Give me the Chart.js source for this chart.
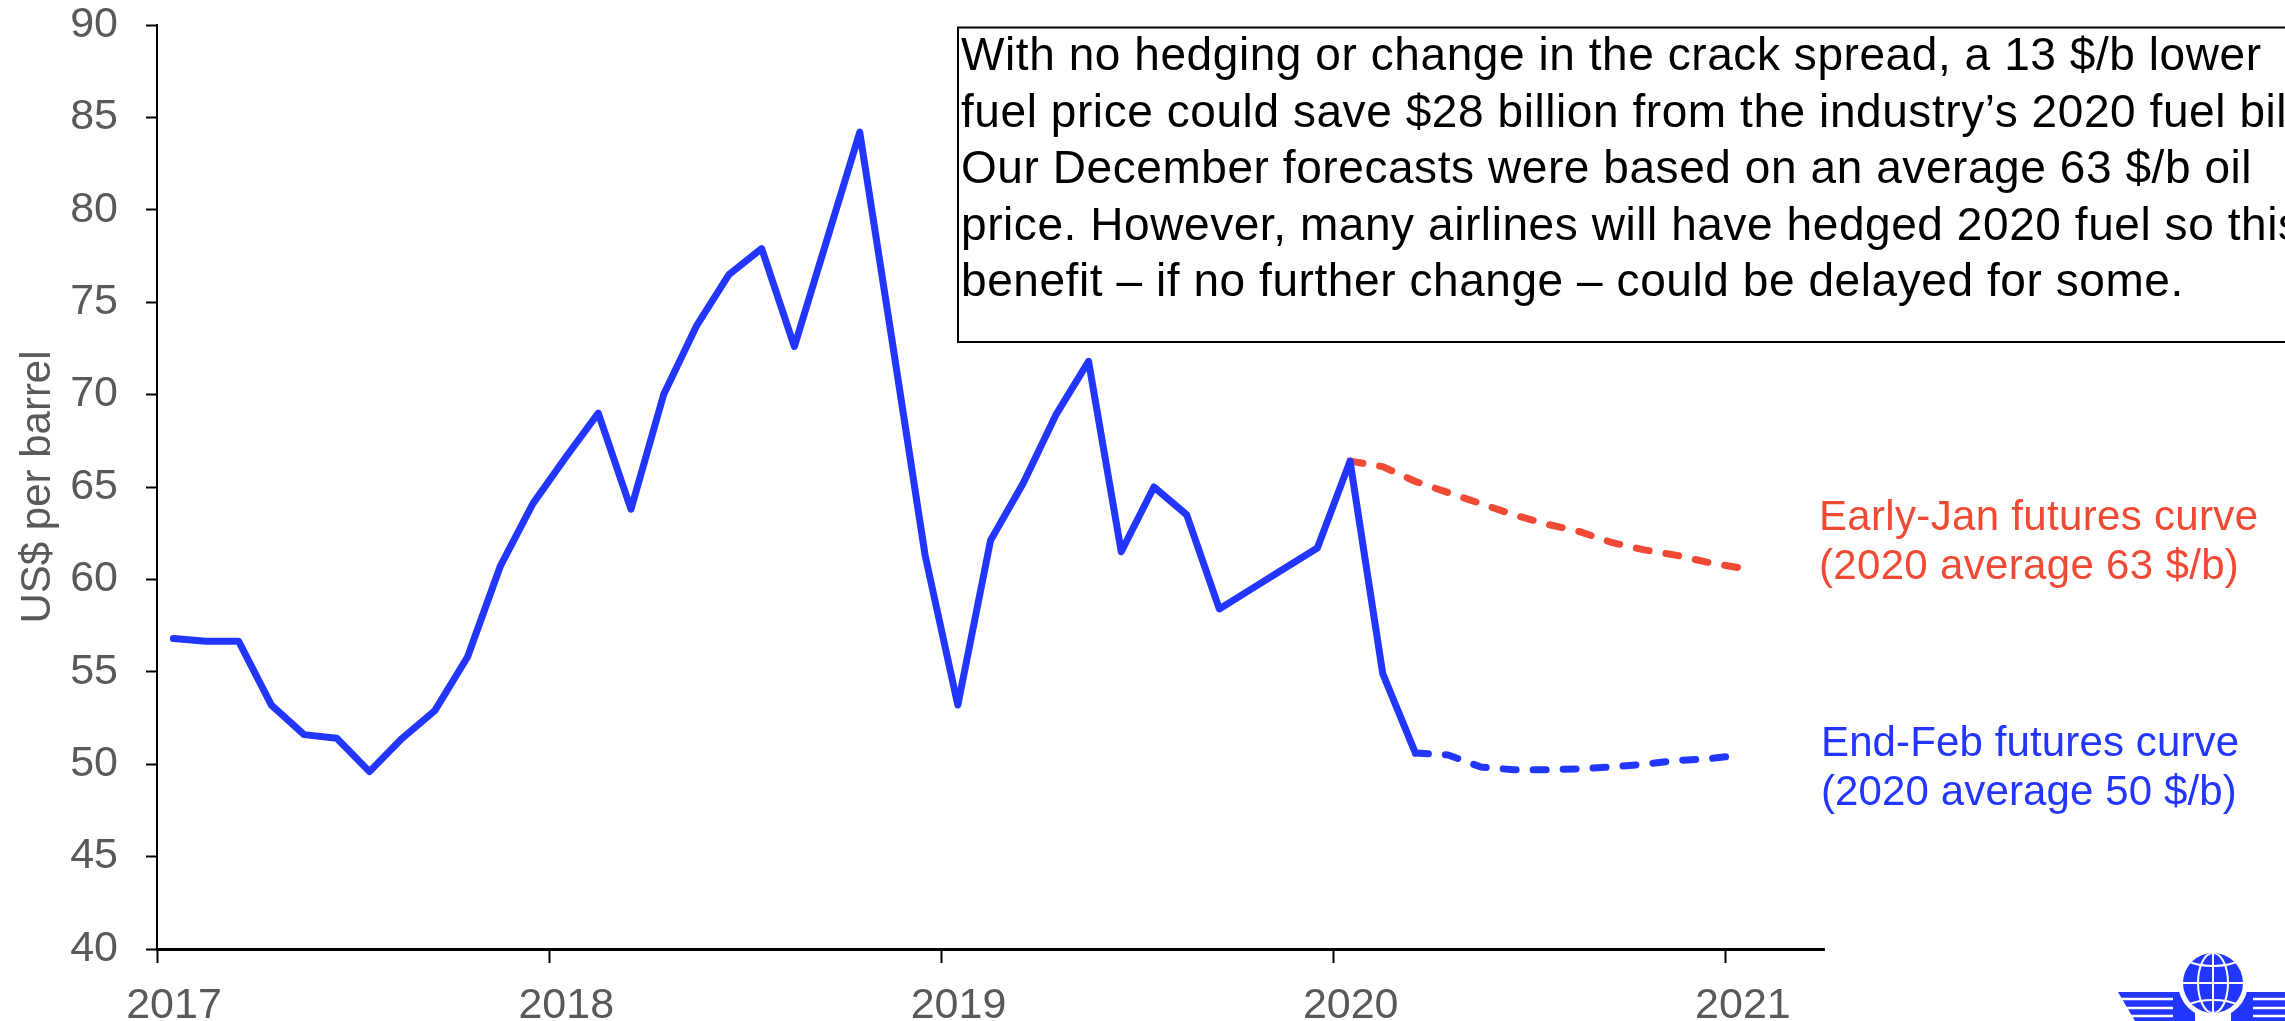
<!DOCTYPE html>
<html>
<head>
<meta charset="utf-8">
<script src="https://cdn.jsdelivr.net/npm/chart.js@4.4.0/dist/chart.umd.min.js"></script>
<style>
  html, body { margin: 0; background: #fff; }
  #wrap { width: 2285px; height: 1021px; position: relative; }
</style>
</head>
<body>
<div id="wrap"><canvas id="chart"></canvas></div>
<script>
// monthly averages, US$ per barrel
const histStart = '2017-01';
const histPrice = [
  56.8, 56.65, 56.65, 53.2, 51.6, 51.4, 49.6, 51.4, 52.9, 55.8, 60.7, 64.1,
  66.6, 69.0, 63.8, 70.0, 73.7, 76.5, 77.9, 72.6, 78.4, 84.2, 72.8, 61.3,
  53.2, 62.1, 65.2, 68.9, 71.8, 61.5, 65.0, 63.5, 58.4, 59.5, 60.6, 61.7,
  66.4, 54.9, 50.6
];
const janStart = '2020-01';
const janCurve = [66.4, 66.1, 65.3, 64.7, 64.1, 63.5, 63.0, 62.6, 62.0, 61.6, 61.3, 60.9, 60.6];
const febStart = '2020-03';
const febCurve = [50.6, 50.5, 49.85, 49.7, 49.7, 49.75, 49.85, 50.0, 50.2, 50.3, 50.5];

const yearTicks = [2017, 2018, 2019, 2020, 2021];
const janLabel = ['Early-Jan futures curve', '(2020 average 63 $/b)'];
const febLabel = ['End-Feb futures curve', '(2020 average 50 $/b)'];
const noteLines = [
  'With no hedging or change in the crack spread, a 13 $/b lower',
  'fuel price could save $28 billion from the industry’s 2020 fuel bill.',
  'Our December forecasts were based on an average 63 $/b oil',
  'price. However, many airlines will have hedged 2020 fuel so this',
  'benefit – if no further change – could be delayed for some.'
];

const BLUE = '#2236FF';
const RED = '#F04A35';
const GREY = '#595959';
const FONT = '"Liberation Sans", Arial, sans-serif';

// month string + values -> points at mid-month on a year axis
function toPoints(start, vals) {
  const [y, m] = start.split('-').map(Number);
  return vals.map((v, i) => ({ x: y + (m - 1 + i + 0.5) / 12, y: v }));
}

function fitText(ctx, text, width) {
  ctx.letterSpacing = '0px';
  const w = ctx.measureText(text).width;
  ctx.letterSpacing = ((width - w) / (text.length - 1)) + 'px';
}

function drawLogo(ctx) {
  const cx = 2213, cy = 983, r = 30;
  ctx.save();
  ctx.fillStyle = BLUE;
  for (const s of [-1, 1]) {
    ctx.beginPath();
    ctx.moveTo(cx + s * 95, 992);
    ctx.lineTo(cx + s * 18, 992);
    ctx.lineTo(cx + s * 18, 1021);
    ctx.lineTo(cx + s * 78, 1021);
    ctx.closePath();
    ctx.fill();
  }
  ctx.strokeStyle = '#fff';
  ctx.lineWidth = 2.5;
  for (const s of [-1, 1]) {
    for (const y of [999, 1008, 1016]) {
      ctx.beginPath();
      ctx.moveTo(cx + s * 92, y);
      ctx.lineTo(cx + s * 40, y);
      ctx.stroke();
    }
  }
  ctx.fillStyle = '#fff';
  ctx.beginPath(); ctx.arc(cx, cy, r + 5, 0, Math.PI * 2); ctx.fill();
  ctx.fillStyle = BLUE;
  ctx.beginPath(); ctx.arc(cx, cy, r, 0, Math.PI * 2); ctx.fill();
  ctx.save();
  ctx.clip();
  ctx.lineWidth = 2;
  ctx.beginPath();
  ctx.moveTo(cx, cy - r); ctx.lineTo(cx, cy + r);
  ctx.moveTo(cx - r, cy); ctx.lineTo(cx + r, cy);
  ctx.stroke();
  ctx.beginPath(); ctx.ellipse(cx, cy, 15, r, 0, 0, Math.PI * 2); ctx.stroke();
  ctx.beginPath(); ctx.ellipse(cx, cy - 35, 37, 18, 0, 0, Math.PI * 2); ctx.stroke();
  ctx.beginPath(); ctx.ellipse(cx, cy + 35, 37, 18, 0, 0, Math.PI * 2); ctx.stroke();
  ctx.restore();
  ctx.restore();
}

const extras = {
  id: 'extras',
  beforeDraw(chart) {
    const ctx = chart.ctx;
    ctx.save();
    ctx.fillStyle = '#fff';
    ctx.fillRect(0, 0, chart.width, chart.height);
    ctx.restore();
  },
  afterDraw(chart) {
    const ctx = chart.ctx;
    ctx.save();
    // note box
    ctx.fillStyle = '#fff';
    ctx.fillRect(958, 27.5, 1400, 314.5);
    ctx.strokeStyle = '#000';
    ctx.lineWidth = 2;
    ctx.strokeRect(958, 27.5, 1400, 314.5);
    ctx.fillStyle = '#000';
    ctx.font = '46px ' + FONT;
    ctx.textBaseline = 'alphabetic';
    fitText(ctx, noteLines[0], 1300);
    noteLines.forEach((t, i) => ctx.fillText(t, 961, 70 + i * 56.6));

    // series labels
    ctx.font = '42px ' + FONT;
    ctx.fillStyle = RED;
    fitText(ctx, janLabel[0], 439);
    ctx.fillText(janLabel[0], 1819, 530);
    ctx.fillText(janLabel[1], 1819, 579);
    ctx.fillStyle = BLUE;
    fitText(ctx, febLabel[0], 418);
    ctx.fillText(febLabel[0], 1821, 756);
    ctx.fillText(febLabel[1], 1821, 805);
    ctx.letterSpacing = '0px';
    ctx.restore();

    drawLogo(ctx);
  }
};

const tickFont = { family: FONT, size: 43 };

new Chart(document.getElementById('chart'), {
  type: 'line',
  data: {
    datasets: [
      { data: toPoints(histStart, histPrice), borderColor: BLUE },
      { data: toPoints(febStart, febCurve), borderColor: BLUE, borderDash: [13, 17] },
      { data: toPoints(janStart, janCurve), borderColor: RED, borderDash: [13, 17] }
    ]
  },
  options: {
    responsive: true,
    maintainAspectRatio: false,
    animation: false,
    layout: { padding: { top: 25, right: 461, bottom: 0, left: 0 } },
    elements: {
      point: { radius: 0 },
      line: { borderWidth: 7, tension: 0, borderCapStyle: 'round', borderJoinStyle: 'round', fill: false }
    },
    plugins: { legend: { display: false }, tooltip: { enabled: false } },
    scales: {
      x: {
        type: 'linear',
        min: 2017,
        max: 2021.25,
        afterBuildTicks: s => { s.ticks = yearTicks.map(v => ({ value: v })); },
        afterFit: s => { s.height = 72; s.paddingLeft = 0; s.paddingRight = 0; },
        border: { color: '#000', width: 3 },
        grid: { drawOnChartArea: false, tickLength: 14, tickColor: '#000', tickWidth: 2 },
        ticks: { font: tickFont, color: GREY, padding: 17, labelOffset: 17, maxRotation: 0,
                 callback: v => String(v) }
      },
      y: {
        min: 40,
        max: 90,
        afterFit: s => { s.width = 157; s.paddingTop = 0; s.paddingBottom = 0; },
        border: { color: '#000', width: 2 },
        grid: { drawOnChartArea: false, tickLength: 11, tickColor: '#000', tickWidth: 2 },
        ticks: { stepSize: 5, font: tickFont, color: GREY, padding: 28 },
        title: { display: true, text: 'US$ per barrel', font: { family: FONT, size: 42 }, color: GREY,
                 padding: { top: 13, bottom: 0 } }
      }
    }
  },
  plugins: [extras]
});
</script>
</body>
</html>
